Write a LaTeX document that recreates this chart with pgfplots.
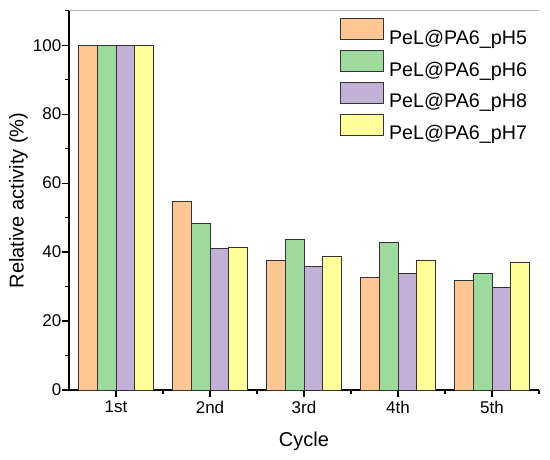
\documentclass[border=0pt]{standalone}
\usepackage{fontspec}
\setmainfont{Liberation Sans}
\usepackage{pgfplots}
\pgfplotsset{compat=1.18}
\definecolor{cOr}{RGB}{253,198,146}
\definecolor{cGr}{RGB}{158,218,157}
\definecolor{cPu}{RGB}{193,177,215}
\definecolor{cYe}{RGB}{255,255,153}
\begin{document}
\begin{tikzpicture}
\path[use as bounding box] (-69pt,-69pt) rectangle (481pt,390pt);
\begin{axis}[
  scale only axis,
  width=470pt, height=379.3pt,
  xmin=-0.5, xmax=4.5, ymin=0, ymax=110,
  axis x line*=bottom, axis y line*=left,
  axis line style={line width=1.2pt},
  xtick={0,1,2,3,4},
  xticklabels={1st,2nd,3rd,4th,5th},
  minor xtick={0.5,1.5,2.5,3.5,4.5},
  ytick={0,20,40,60,80,100},
  minor ytick={10,30,50,70,90,110},
  xtick align=outside, ytick align=outside,
  major tick length=6.5pt, minor tick length=3.5pt,
  xtick style={black, line width=1.2pt},
  ytick style={black, line width=1.2pt},
  /pgf/number format/assume math mode=true,
  tick label style={font=\fontsize{17}{20}\selectfont},
  yticklabel style={inner sep=1pt},
  xticklabel style={inner sep=4pt},
  xlabel={Cycle},
  ylabel={Relative activity (\%)},
  every axis x label/.style={at={(rel axis cs:0.5,0)}, yshift=-56.7pt, anchor=base, font=\fontsize{20}{24}\selectfont},
  every axis y label/.style={at={(rel axis cs:0,0.5)}, xshift=-50.5pt, rotate=90, anchor=center, font=\fontsize{20}{24}\selectfont},
  legend cell align=left,
  legend style={at={(rel axis cs:1,1)}, anchor=north east, xshift=-12pt, yshift=-7.6pt,
    draw=none, fill=none, inner sep=0pt, outer sep=0pt, row sep=3pt,
    font=\fontsize{19.7}{22}\selectfont,
    nodes={inner sep=0pt, text height=18pt, text depth=3pt},
    /tikz/every odd column/.append style={column sep=5pt}},
  legend image code/.code={\draw[#1] (0pt,-3pt) rectangle (43pt,18pt);},
  barsty/.style={ybar, bar width=0.2, draw=black!80, line width=0.7pt},
]
\addplot[barsty, bar shift=-0.3, fill=cOr] coordinates {(0,100) (1,54.6) (2,37.6) (3,32.7) (4,31.8)};
\addplot[barsty, bar shift=-0.1, fill=cGr] coordinates {(0,100) (1,48.3) (2,43.7) (3,42.7) (4,33.8)};
\addplot[barsty, bar shift=0.1, fill=cPu] coordinates {(0,100) (1,41.0) (2,35.8) (3,33.7) (4,29.7)};
\addplot[barsty, bar shift=0.3, fill=cYe] coordinates {(0,100) (1,41.5) (2,38.9) (3,37.7) (4,36.9)};
\legend{PeL@PA6\_pH5, PeL@PA6\_pH6, PeL@PA6\_pH8, PeL@PA6\_pH7}
\draw[black!30, line width=0.8pt] (rel axis cs:0,1) -- (rel axis cs:1,1) -- (rel axis cs:1,0);
\end{axis}
\end{tikzpicture}
\end{document}
